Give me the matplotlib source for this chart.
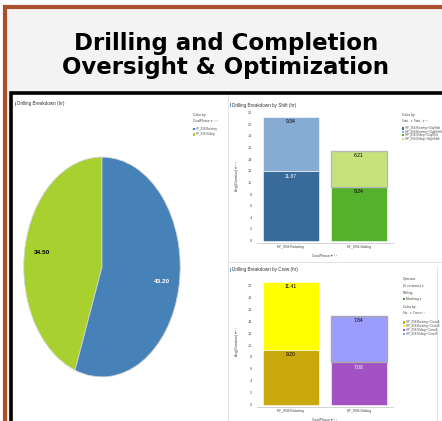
import matplotlib
matplotlib.use("Agg")
import matplotlib.pyplot as plt
from matplotlib.patches import Rectangle

plt.rcParams['font.family'] = ['Liberation Sans', 'DejaVu Sans']

W, H = 442, 421

# pie: drilling breakdown by phase (hr)
pie_names = ['HP_X58:Sliding', 'HP_X58:Rotating']
pie_values = [34.50, 43.20]
pie_colors = ['#a8d02e', '#4682b7']
pie_text_colors = ['black', 'white']

# bar charts
phases = ['HP_X58:Rotating', 'HP_X58:Sliding']
shift_day = [11.87, 9.24]
shift_night = [9.34, 6.21]
crew_a = [9.20, 7.08]
crew_b = [11.41, 7.84]

shift_day_colors = ['#386a9a', '#55b02e']
shift_night_colors = ['#86acd4', '#c6e27a']
crew_a_colors = ['#c9a80b', '#a352c4']
crew_b_colors = ['#ffff00', '#9c9cff']

shift_legend = ['HP_X58:Rotating \u00bb DayShift', 'HP_X58:Rotating \u00bb NightShift',
                'HP_X58:Sliding \u00bb DayShift', 'HP_X58:Sliding \u00bb NightShift']
crew_legend = ['HP_X58:Rotating \u00bb Crew A', 'HP_X58:Rotating \u00bb Crew B',
               'HP_X58:Sliding \u00bb Crew A', 'HP_X58:Sliding \u00bb Crew B']

fig = plt.figure(figsize=(W / 100, H / 100), dpi=100, facecolor='white')

# background layer in pixel coordinates
bg = fig.add_axes([0, 0, 1, 1])
bg.set_xlim(0, W)
bg.set_ylim(H, 0)
bg.axis('off')
bg.add_patch(Rectangle((4.5, 6.5), 460, 440, facecolor='#f3f3f3',
                       edgecolor='#a9512c', lw=3))
bg.add_patch(Rectangle((10.7, 92.5), 460, 360, facecolor='white',
                       edgecolor='black', lw=2.6))
bg.plot([228, 228], [95, 421], color='#dcdcdc', lw=0.6)
bg.plot([228, 442], [262, 262], color='#dcdcdc', lw=0.6)
bg.plot([437, 437], [266, 421], color='#e2e2e2', lw=0.6)

title_font = dict(ha='center', va='baseline', fontsize=16.5, fontweight='bold',
                  color='black', family=['DejaVu Sans'])
bg.text(226, 50, 'Drilling and Completion', **title_font)
bg.text(226, 74, 'Oversight & Optimization', **title_font)

small = dict(fontsize=2.4, color='#444444', va='center')
tiny = dict(fontsize=2.0, color='#444444', va='center')


def panel_title(x, y, s):
    bg.add_patch(Rectangle((x - 2, y - 1.8), 0.9, 3.6, color='#5b9bd5', lw=0))
    bg.text(x, y, s, fontsize=3.3, color='#333333', va='center')


def legend(x, y, names, colors, step=3.4):
    for i, (n, c) in enumerate(zip(names, colors)):
        yy = y + i * step
        bg.add_patch(Rectangle((x, yy - 1.1), 2.2, 2.2, color=c, lw=0))
        bg.text(x + 3.0, yy, n, **tiny)


panel_title(17, 104, 'Drilling Breakdown (hr)')
panel_title(232, 105, 'Drilling Breakdown by Shift (hr)')
panel_title(232, 270, 'Drilling Breakdown by Crew (hr)')

bg.text(193, 115, 'Color by:', **small)
bg.text(193, 121, 'GoalPhase \u25be  \u2039 \u203a', **small)
legend(193, 129.3, pie_names[::-1], pie_colors[::-1], step=5.2)

bg.text(402, 115, 'Color by:', **small)
bg.text(402, 120.5, 'Start... \u25be  Start... \u25be \u2039 \u203a', **tiny)
legend(402, 128.5, shift_legend, shift_day_colors[:1] + shift_night_colors[:1]
       + shift_day_colors[1:] + shift_night_colors[1:])

bg.text(403, 279, 'Operator:', **small)
bg.text(403, 285.5, '(6 versions) \u25be', **small)
bg.text(403, 293, 'Rolling:', **small)
bg.add_patch(Rectangle((403, 298), 2.2, 2.2, color='#3a9a3a', lw=0))
bg.text(406, 299, 'Masking \u25be', **small)
bg.text(403, 307, 'Color by:', **small)
bg.text(403, 313, 'Stu... \u25be  Crew \u25be \u2039 \u203a', **tiny)
legend(403, 322.5, crew_legend, crew_a_colors[:1] + crew_b_colors[:1]
       + crew_a_colors[1:] + crew_b_colors[1:], step=3.9)


def px_axes(l, t, r, b):
    return fig.add_axes([l / W, 1 - b / H, (r - l) / W, (b - t) / H])


# pie, stretched into an ellipse like the dashboard
ax_pie = px_axes(23, 156, 181, 378)
total = sum(pie_values)
wedges, _, autotexts = ax_pie.pie(
    pie_values, colors=pie_colors, startangle=90, counterclock=True,
    autopct=lambda p: f'{p * total / 100:.2f}', pctdistance=0.78,
    wedgeprops=dict(edgecolor='#d4d4d4', linewidth=0.6),
    textprops=dict(fontsize=4.6, fontweight='bold'))
for t, c in zip(autotexts, pie_text_colors):
    t.set_color(c)
ax_pie.set_aspect('auto')
ax_pie.set_xlim(-1.01, 1.01)
ax_pie.set_ylim(-1.01, 1.01)
ax_pie.axis('off')


def stacked(ax, lower, upper, lower_colors, upper_colors, lower_txt, upper_txt,
            upper_edge, ymax, yticks):
    x = range(len(phases))
    ax.bar(x, lower, width=0.82, color=lower_colors, edgecolor='white', lw=0.4)
    ax.bar(x, upper, width=0.82, bottom=lower, color=upper_colors,
           edgecolor=upper_edge, lw=[0.4, 1.0])
    for i in x:
        ax.text(i, lower[i] - 0.8, f'{lower[i]:.2f}', ha='center', va='center',
                fontsize=3.6, color=lower_txt[i])
        top = lower[i] + upper[i]
        ax.text(i, top - 0.8, f'{upper[i]:.2f}', ha='center', va='center',
                fontsize=3.6, color=upper_txt[i])
    ax.set_xlim(-0.5, 1.5)
    ax.set_ylim(-0.35, ymax)
    ax.set_yticks(yticks)
    ax.set_xticks(list(x))
    ax.set_xticklabels(phases)
    ax.tick_params(axis='y', length=0, pad=3.5, labelsize=2.8, labelcolor='#555555')
    ax.tick_params(axis='x', length=0, pad=1.5, labelsize=2.6, labelcolor='#444444')
    for s in ['top', 'right', 'left']:
        ax.spines[s].set_visible(False)
    ax.spines['bottom'].set_color('#cccccc')
    ax.spines['bottom'].set_linewidth(0.6)
    ax.set_xlabel('GoalPhase \u25be \u2039 \u203a', fontsize=2.6, color='#444444',
                  labelpad=4)
    ax.set_ylabel('Avg(Duration) \u25be \u2039 \u203a', fontsize=2.6,
                  color='#444444', labelpad=6)


ax1 = px_axes(257, 108.9, 393, 242.7)
stacked(ax1, shift_day, shift_night, shift_day_colors, shift_night_colors,
        ['white', 'black'], ['black', 'black'], ['white', '#b8b8b8'],
        22.6, range(0, 23, 2))

ax2 = px_axes(257, 276.0, 393, 406.6)
stacked(ax2, crew_a, crew_b, crew_a_colors, crew_b_colors,
        ['black', 'white'], ['black', 'black'], ['white', '#a8a8a8'],
        21.6, range(0, 21, 2))

fig.savefig('out.png', dpi=100)
